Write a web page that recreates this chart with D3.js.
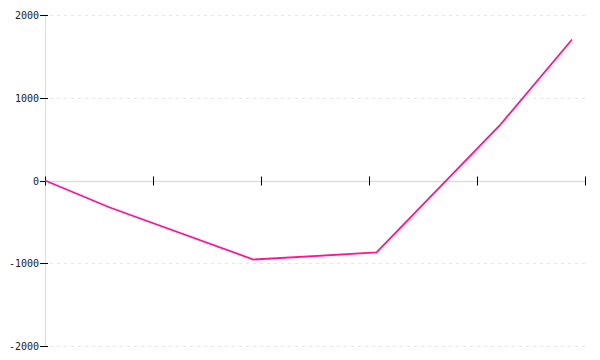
<!DOCTYPE html>
<html>
<head>
<meta charset="utf-8">
<script src="https://cdn.jsdelivr.net/npm/d3@7"></script>
<style>
  html, body { margin: 0; padding: 0; background: #fff; }
  svg { display: block; }
</style>
</head>
<body>
<svg id="chart" width="600" height="360"></svg>
<script>
const xValues = [0, 0.6, 1.93, 3.07, 4.21, 4.88];
const yValues = [0, -326, -955, -870, 665, 1704];
const yTicks = [-2000, -1000, 0, 1000, 2000];
const xTicks = [0, 1, 2, 3, 4, 5];

const svg = d3.select("#chart");
const x = d3.scaleLinear().domain([0, 5]).range([45, 585]);
const y = d3.scaleLinear().domain([-2000, 2000]).range([346, 15]);

// gridlines
svg.append("g").selectAll("line").data(yTicks.filter(d => d !== 0)).join("line")
  .attr("x1", 50).attr("x2", 585)
  .attr("y1", d => Math.round(y(d)) + 0.5).attr("y2", d => Math.round(y(d)) + 0.5)
  .attr("stroke", "#e6e6e6").attr("stroke-width", 1)
  .attr("stroke-dasharray", "3,4");

// y axis domain line
svg.append("line")
  .attr("x1", 45.5).attr("x2", 45.5)
  .attr("y1", y(2000)).attr("y2", y(-2000))
  .attr("stroke", "#dddddd").attr("stroke-width", 1);

// x axis line at zero
svg.append("line")
  .attr("x1", 45).attr("x2", 586)
  .attr("y1", Math.round(y(0)) + 0.5).attr("y2", Math.round(y(0)) + 0.5)
  .attr("stroke", "#dddddd").attr("stroke-width", 1.5);

// y ticks and labels
const yg = svg.append("g");
yTicks.forEach(t => {
  const py = Math.round(y(t)) + 0.5;
  yg.append("line").attr("x1", 40).attr("x2", 48).attr("y1", py).attr("y2", py)
    .attr("stroke", "#000").attr("stroke-width", 1);
  yg.append("text").attr("x", 39).attr("y", py).attr("dy", "0.35em")
    .attr("text-anchor", "end")
    .attr("font-family", "DejaVu Sans Mono, monospace").attr("font-size", 10)
    .attr("fill", "#222")
    .text(d3.format("")(t).replace("−", "-"));
});

// x ticks (no labels)
const xg = svg.append("g");
xTicks.forEach(t => {
  const px = Math.round(x(t)) + 0.5;
  xg.append("line").attr("x1", px).attr("x2", px)
    .attr("y1", y(0) - 4).attr("y2", y(0) + 5)
    .attr("stroke", "#000").attr("stroke-width", 1);
});

// line
const data = xValues.map((d, i) => [d, yValues[i]]);
svg.append("path").datum(data)
  .attr("fill", "none").attr("stroke", "#ff1493").attr("stroke-width", 1.8)
  .attr("d", d3.line().x(d => x(d[0])).y(d => y(d[1])));
</script>
</body>
</html>
